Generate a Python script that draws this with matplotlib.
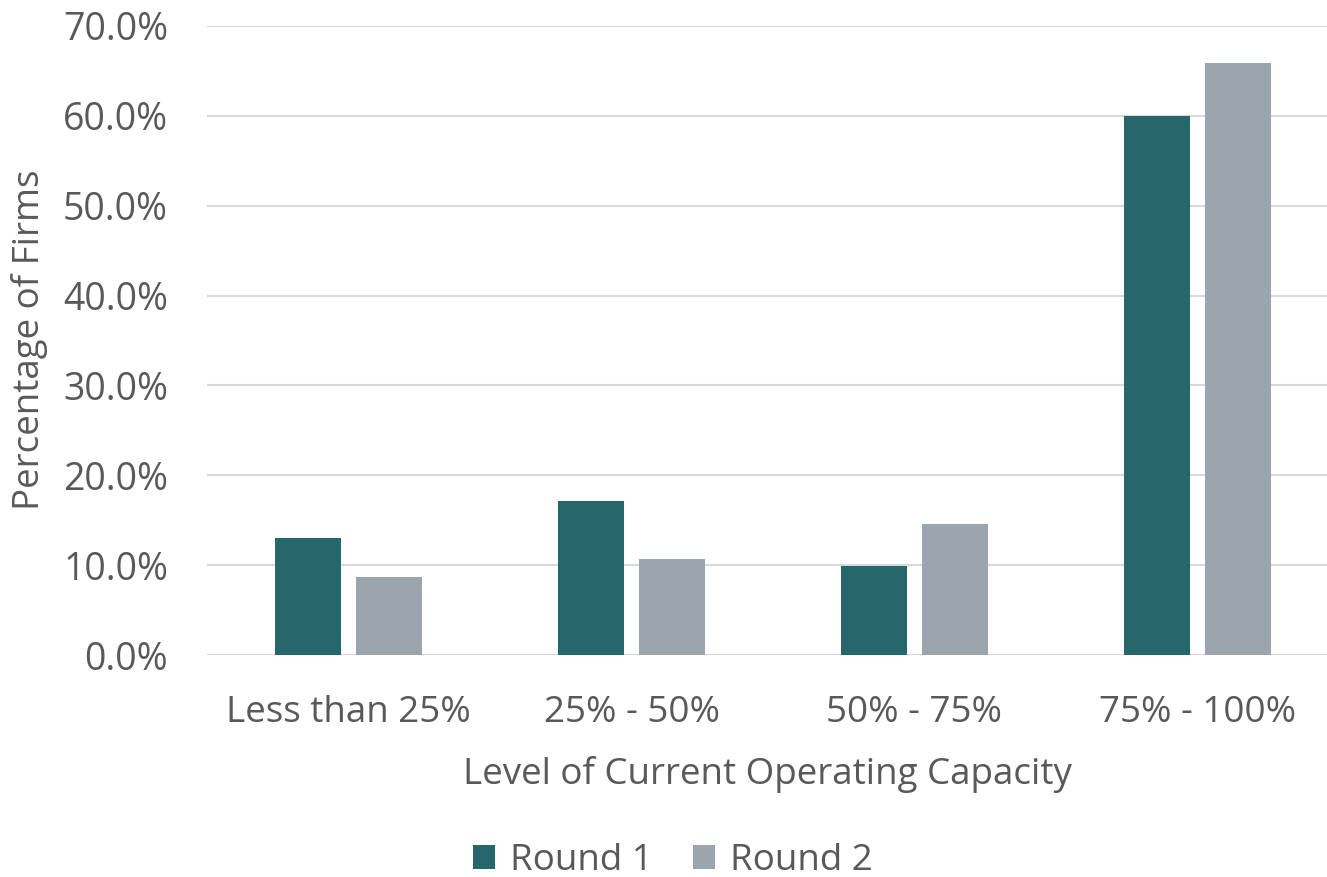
import numpy as np
import matplotlib.pyplot as plt
from matplotlib.ticker import PercentFormatter

# capacity bands and share of firms in each survey round
categories = ["Less than 25%", "25% - 50%", "50% - 75%", "75% - 100%"]
round_1 = [0.130, 0.171, 0.099, 0.600]
round_2 = [0.087, 0.107, 0.146, 0.659]
series_names = ["Round 1", "Round 2"]

teal = "#26676B"
grey = "#9CA5AE"
text_col = "#595959"
grid_col = "#D9D9D9"

plt.rcParams["font.family"] = ["Open Sans", "DejaVu Sans"]

fig = plt.figure(figsize=(13.27, 8.77), dpi=100)
ax = fig.add_axes([207 / 1327, 222 / 877, 1120 / 1327, 629 / 877])

x = np.arange(len(categories))
w = 0.233
off = 0.143
ax.bar(x - off, round_1, width=w, color=teal, label=series_names[0], zorder=3)
ax.bar(x + off, round_2, width=w, color=grey, label=series_names[1], zorder=3)

ax.set_xlim(-0.5, -0.5 + 1120 / 283)
ax.set_ylim(0, 0.70)
ax.set_yticks(np.arange(0, 0.71, 0.10))
ax.yaxis.set_major_formatter(PercentFormatter(1.0, decimals=1))
ax.grid(axis="y", color=grid_col, linewidth=1.5, zorder=0)
ax.set_axisbelow(True)

for s in ax.spines.values():
    s.set_visible(False)

ax.set_xticks(x)
ax.set_xticklabels(categories)
ax.tick_params(axis="x", length=0, labelsize=26.5, colors=text_col, pad=29)
ax.tick_params(axis="y", length=0, labelsize=27, colors=text_col, pad=28)

ax.set_xlabel("Level of Current Operating Capacity", fontsize=26.5, color=text_col, labelpad=18)
fig.text(30 / 1327, 1 - 340 / 877, "Percentage of Firms", rotation=90, fontsize=26.5,
         color=text_col, ha="center", va="center")

fig.legend(loc="center", bbox_to_anchor=(673 / 1327, 1 - 861 / 877), ncol=2, frameon=False,
           fontsize=26.5, labelcolor=text_col, handlelength=0.6, handleheight=0.6,
           handletextpad=0.4, columnspacing=1.1)

fig.savefig("out.png", dpi=100)
